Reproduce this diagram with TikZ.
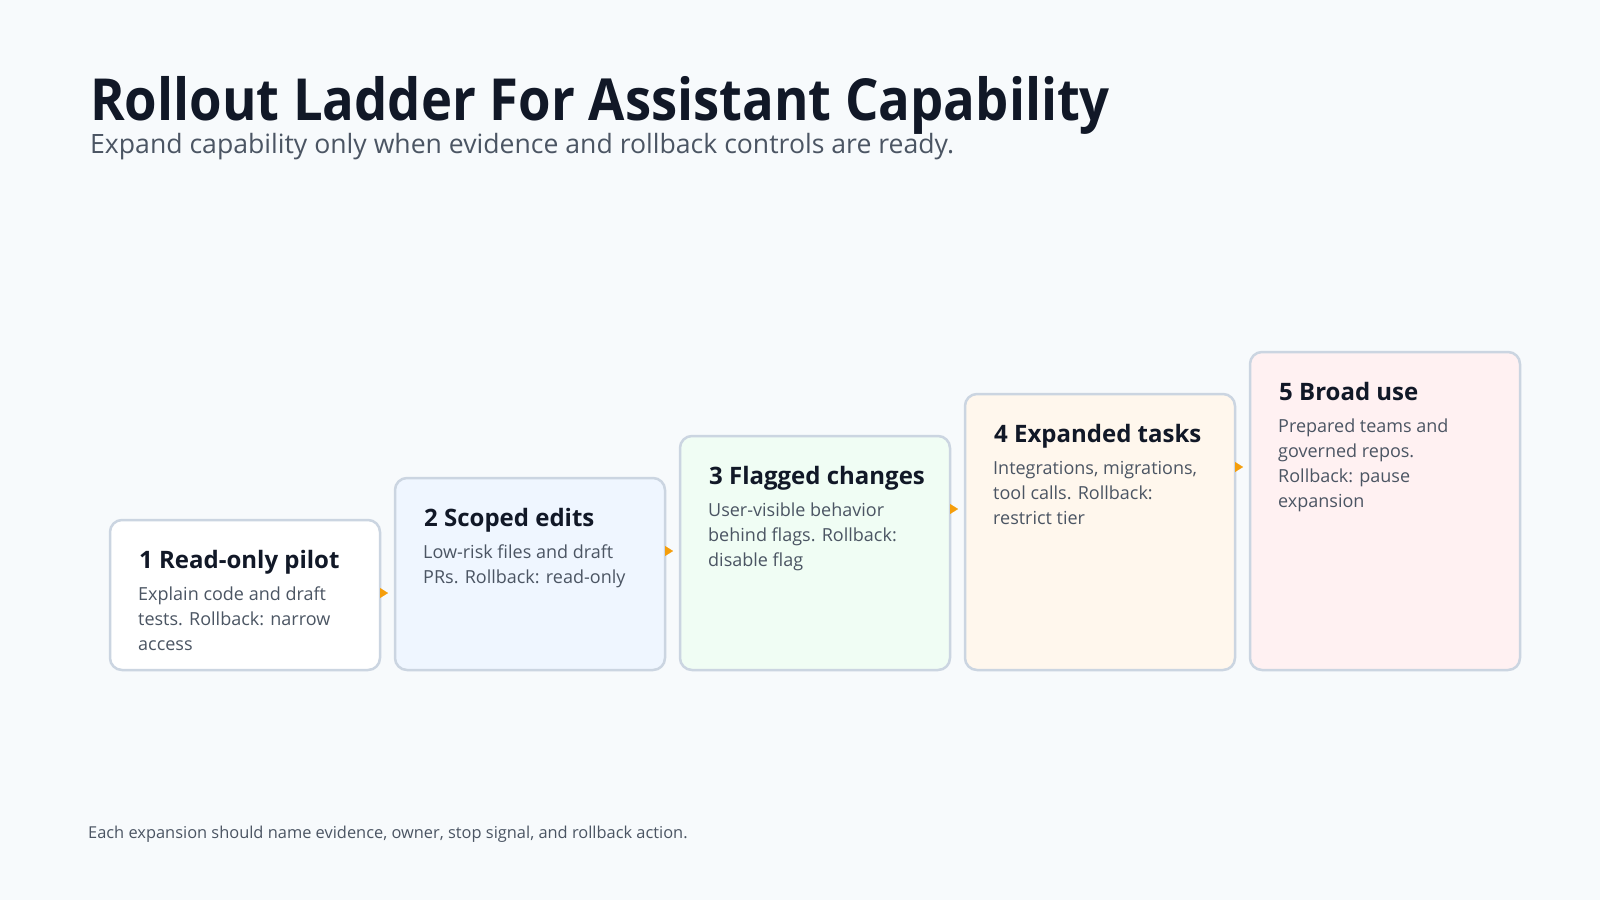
\documentclass[tikz,border=0pt]{standalone}
\usepackage{fontspec}
\setmainfont{Open Sans}
\newfontfamily\titlefont{Open Sans}[FakeStretch=0.907]
\usetikzlibrary{arrows.meta,calc}
\definecolor{bgc}{HTML}{F7FAFC}
\definecolor{ink}{HTML}{111827}
\definecolor{muted}{HTML}{4B5563}
\definecolor{edge}{HTML}{CBD5E1}
\definecolor{amber}{HTML}{F59E0B}
\definecolor{f1}{HTML}{FFFFFF}
\definecolor{f2}{HTML}{EFF6FF}
\definecolor{f3}{HTML}{F0FDF4}
\definecolor{f4}{HTML}{FFF7ED}
\definecolor{f5}{HTML}{FFF1F2}
\tikzset{
  stage/.style={draw=edge, line width=2.5pt, rounded corners=12pt, minimum width=270pt,
    anchor=north west, inner sep=0pt, outer sep=0pt, rectangle},
  stagetitle/.style={anchor=base west, inner sep=0pt, text=ink, font=\fontsize{24}{28}\selectfont\bfseries},
  stagebody/.style={anchor=base west, inner sep=0pt, text=muted},
  flow/.style={draw=amber, line width=0.1pt, -{Triangle[length=8pt,width=10pt]}, shorten >=7pt},
}
\newcommand{\bodytext}[1]{\parbox[t]{230pt}{\raggedright\fontsize{18}{25}\selectfont #1}}
\begin{document}
\begin{tikzpicture}[x=1pt,y=-1pt]
\fill[bgc] (0,0) rectangle (1600,900);
\useasboundingbox (0,0) rectangle (1600,900);

\node[anchor=base west, inner sep=0pt, text=ink, font=\titlefont\fontsize{58}{70}\selectfont\bfseries] (title) at (90,120) {Rollout Ladder For Assistant Capability};
\node[anchor=base west, inner sep=0pt, text=muted, font=\fontsize{26.6}{30}\selectfont] (subtitle) at (90,153) {Expand capability only when evidence and rollback controls are ready.};

\node[stage, fill=f1, minimum height=150pt] (b1) at (110,520) {};
\node[stage, fill=f2, minimum height=192pt] (b2) at (395,478) {};
\node[stage, fill=f3, minimum height=234pt] (b3) at (680,436) {};
\node[stage, fill=f4, minimum height=276pt] (b4) at (965,394) {};
\node[stage, fill=f5, minimum height=318pt] (b5) at (1250,352) {};

\node[stagetitle] (t1) at ($(b1.north west)+(29,48)$) {1 Read-only pilot};
\node[stagebody] (d1) at ($(b1.north west)+(28,80)$) {\bodytext{Explain code and draft\\tests. Rollback: narrow\\access}};
\node[stagetitle] (t2) at ($(b2.north west)+(29,48)$) {2 Scoped edits};
\node[stagebody] (d2) at ($(b2.north west)+(28,80)$) {\bodytext{Low-risk files and draft\\PRs. Rollback: read-only}};
\node[stagetitle] (t3) at ($(b3.north west)+(29,48)$) {3 Flagged changes};
\node[stagebody] (d3) at ($(b3.north west)+(28,80)$) {\bodytext{User-visible behavior\\behind flags. Rollback:\\disable flag}};
\node[stagetitle] (t4) at ($(b4.north west)+(29,48)$) {4 Expanded tasks};
\node[stagebody] (d4) at ($(b4.north west)+(28,80)$) {\bodytext{Integrations, migrations,\\tool calls. Rollback:\\restrict tier}};
\node[stagetitle] (t5) at ($(b5.north west)+(29,48)$) {5 Broad use};
\node[stagebody] (d5) at ($(b5.north west)+(28,80)$) {\bodytext{Prepared teams and\\governed repos.\\Rollback: pause\\expansion}};

\coordinate (a1) at ($(b1.north east)+(0,73)$);
\coordinate (a2) at ($(b2.north east)+(0,73)$);
\coordinate (a3) at ($(b3.north east)+(0,73)$);
\coordinate (a4) at ($(b4.north east)+(0,73)$);
\draw[flow] (a1) -- (a1 -| b2.west);
\draw[flow] (a2) -- (a2 -| b3.west);
\draw[flow] (a3) -- (a3 -| b4.west);
\draw[flow] (a4) -- (a4 -| b5.west);

\node[anchor=base west, inner sep=0pt, text=muted, font=\fontsize{16.4}{20}\selectfont] (foot) at (88,838) {Each expansion should name evidence, owner, stop signal, and rollback action.};
\end{tikzpicture}
\end{document}
